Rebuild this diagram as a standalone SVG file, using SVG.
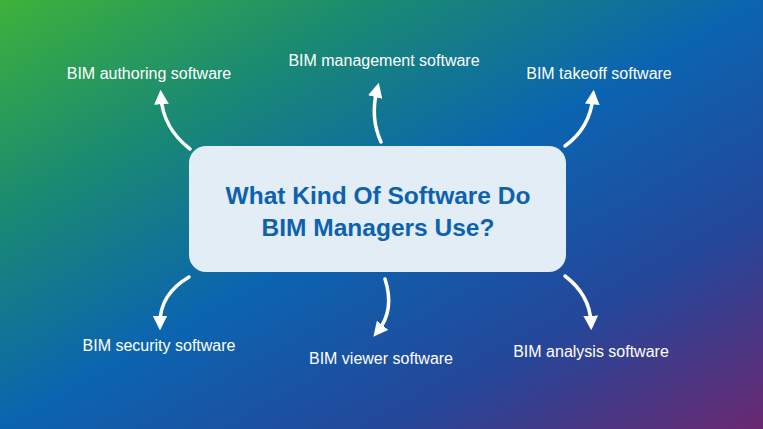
<svg xmlns="http://www.w3.org/2000/svg" width="763" height="429" viewBox="0 0 763 429">
<defs>
<linearGradient id="bg" x1="0" y1="0" x2="1" y2="1">
<stop offset="0" stop-color="#3eb23a"/>
<stop offset="0.25" stop-color="#1a8a72"/>
<stop offset="0.5" stop-color="#0b64b0"/>
<stop offset="0.75" stop-color="#24479a"/>
<stop offset="1" stop-color="#6a2870"/>
</linearGradient>
<marker id="ah" viewBox="0 0 10 10" refX="5" refY="5" markerWidth="4.2" markerHeight="4.2" orient="auto-start-reverse" markerUnits="strokeWidth">
<path d="M0,0 L10,5 L0,10 Z" fill="#fff"/>
</marker>
<style>
.lbl{font-family:"Liberation Sans",Arial,sans-serif;font-size:16px;fill:#fff;text-anchor:middle}
.ttl{font-family:"Liberation Sans",Arial,sans-serif;font-size:24.5px;font-weight:bold;fill:#0d62b0;text-anchor:middle}
.c{fill:none;stroke:#fff;stroke-width:3.5;stroke-linecap:round;marker-end:url(#ah)}
</style>
</defs>
<rect width="763" height="429" fill="url(#bg)"/>
<g id="center">
<rect x="189" y="146" width="377" height="126" rx="17" fill="#e2edf5"/>
<text class="ttl" x="378" y="204">What Kind Of Software Do</text>
<text class="ttl" x="378" y="236">BIM Managers Use?</text>
</g>
<g id="connectors">
<path class="c" d="M190,149 Q163,128 161,97"/>
<path class="c" d="M381,142 Q370,118 377,90"/>
<path class="c" d="M565,146 Q590,128 593,97"/>
<path class="c" d="M189,277 Q160,294 160,323"/>
<path class="c" d="M385,279 Q395,310 378,331"/>
<path class="c" d="M565,276 Q590,295 591,323"/>
</g>
<g id="n1"><text class="lbl" x="149" y="79">BIM authoring software</text></g>
<g id="n2"><text class="lbl" x="384" y="66">BIM management software</text></g>
<g id="n3"><text class="lbl" x="599" y="79">BIM takeoff software</text></g>
<g id="n4"><text class="lbl" x="159" y="351">BIM security software</text></g>
<g id="n5"><text class="lbl" x="381" y="364">BIM viewer software</text></g>
<g id="n6"><text class="lbl" x="591" y="357">BIM analysis software</text></g>
</svg>
